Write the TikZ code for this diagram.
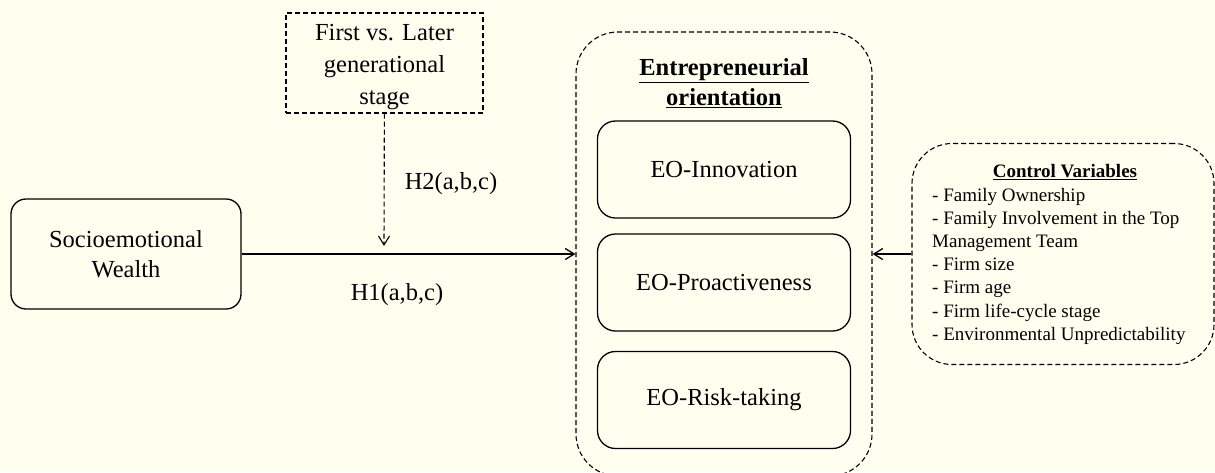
\documentclass[tikz,border=0pt]{standalone}
\usepackage{fontspec}
\setmainfont{Liberation Serif}
\usepackage{tikz}
\usetikzlibrary{arrows.meta, positioning}
\definecolor{bgcream}{RGB}{255,255,240}

\begin{document}
\begin{tikzpicture}[x=1pt, y=-1pt,
    every node/.style={inner sep=0pt, font=\fontsize{24.5}{30}\selectfont},
    solidbox/.style={rectangle, draw, line width=1.3pt, rounded corners=18pt, align=center},
    dashbox/.style={rectangle, draw, line width=1.1pt, dash pattern=on 5pt off 3pt, align=center},
    link/.style={line width=1.3pt, -{Straight Barb[length=9pt, width=11pt]}},
    cvtext/.style={font=\fontsize{19}{23}\selectfont, anchor=base west}]

    % Page and background
    \useasboundingbox (0,0) rectangle (1215,472);
    \fill[bgcream] (0,0) rectangle (1215,472);
    \clip (0,0) rectangle (1215,472);

    % Independent variable
    \node[solidbox, rounded corners=15pt, minimum width=230pt, minimum height=110pt]
        (sew) at (126,254) {Socioemotional\\Wealth};

    % Moderator
    \node[dashbox, minimum width=197pt, minimum height=100pt] (gen) at (384.5,63) {};
    \node[align=center, font=\fontsize{24.5}{32}\selectfont]
        (gentext) at (384.5,67) {First vs. Later\\generational\\stage};

    % Entrepreneurial orientation dimensions
    \node[dashbox, rounded corners=42pt, minimum width=296pt, minimum height=444pt]
        (eo) at (724,254) {};
    \node[align=center] (eotitle) at (724,83)
        {\textbf{\underline{Entrepreneurial}}\\\textbf{\underline{orientation}}};
    \foreach \lbl/\yy [count=\i] in {Innovation/169.5, Proactiveness/282.5, Risk-taking/400} {
        \node[solidbox, minimum width=253pt, minimum height=97pt]
            (eodim\i) at (724,\yy) {EO-\lbl};
    }

    % Control variables
    \node[dashbox, rounded corners=40pt, minimum width=302pt, minimum height=221pt]
        (ctrl) at (1063,254) {};
    \node[font=\fontsize{19}{23}\selectfont\bfseries] (cvtitle) at (1065,172) {\underline{Control Variables}};
    \foreach \txt [count=\i] in {- Family Ownership, - Family Involvement in the Top,
        Management Team, - Firm size, - Firm age, - Firm life-cycle stage,
        - Environmental Unpredictability} {
        \node[cvtext] (cv\i) at (932,{201+(\i-1)*23.2}) {\txt};
    }

    % Hypotheses
    \coordinate (modtip) at (384,246);
    \draw[link] (sew) -- (eo);
    \draw[link, line width=1.1pt, dash pattern=on 5pt off 3pt] (gen) -- (modtip);
    \draw[link] (ctrl) -- (eo);
    \node (h2) at (451,184) {H2(a,b,c)};
    \node (h1) at (397,295) {H1(a,b,c)};
\end{tikzpicture}
\end{document}
